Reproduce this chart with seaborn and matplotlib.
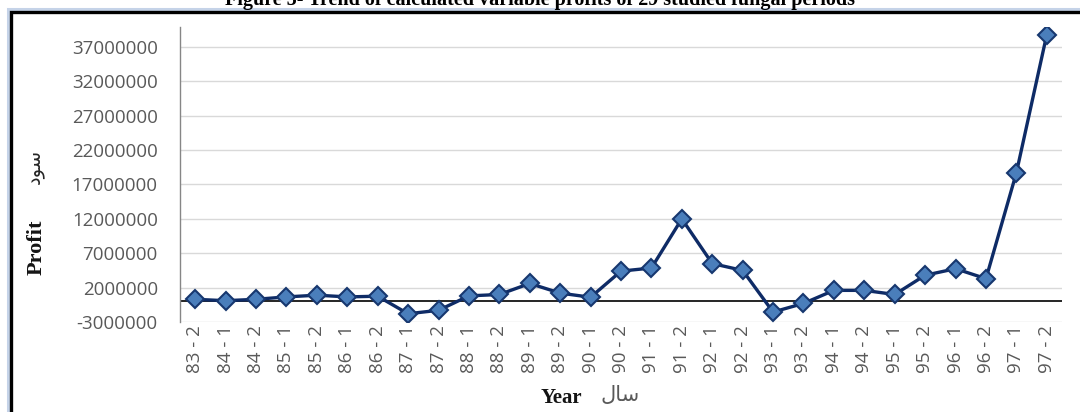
import pandas as pd
import matplotlib
matplotlib.use('Agg')
import matplotlib.pyplot as plt
from matplotlib.lines import Line2D
import seaborn as sns

# periods (year - half) and calculated variable profit
periods = ['83 - 2', '84 - 1', '84 - 2', '85 - 1', '85 - 2', '86 - 1', '86 - 2',
           '87 - 1', '87 - 2', '88 - 1', '88 - 2', '89 - 1', '89 - 2', '90 - 1',
           '90 - 2', '91 - 1', '91 - 2', '92 - 1', '92 - 2', '93 - 1', '93 - 2',
           '94 - 1', '94 - 2', '95 - 1', '95 - 2', '96 - 1', '96 - 2', '97 - 1', '97 - 2']
profits = [300000, 100000, 300000, 650000, 900000, 650000, 750000,
           -1800000, -1300000, 800000, 1000000, 2600000, 1200000, 600000,
           4400000, 4850000, 12000000, 5500000, 4500000, -1550000, -300000,
           1600000, 1600000, 1000000, 3800000, 4750000, 3300000, 18700000, 38800000]
yticks = list(range(-3000000, 37000001, 5000000))

title = 'Figure 5- Trend of calculated variable profits of 29 studied fungal periods'
# Persian words in presentation forms (visual order): sud, sal
fa_profit = '\uFEA9\uFEEE\uFEB3'
fa_year = '\uFEDD\uFE8E\uFEB3'

df = pd.DataFrame({'period': periods, 'profit': profits})

sns.set_theme(style='white')
plt.rcParams['font.family'] = ['Open Sans', 'DejaVu Sans']

W, H = 1080, 412
fig = plt.figure(figsize=(W / 100, H / 100), dpi=100)
ax = fig.add_axes([180 / W, 1 - 322 / H, (1062 - 180) / W, (322 - 27) / H])

ax.grid(axis='y', color='#d9d9d9', linewidth=1)
ax.axhline(0, color='black', linewidth=1.2, zorder=2)
sns.lineplot(data=df, x='period', y='profit', sort=False, ax=ax,
             color='#0e2b66', linewidth=2.4, marker='D', markersize=9.5,
             markerfacecolor='#4a7ebb', markeredgecolor='#17376f',
             markeredgewidth=1.5, zorder=3)

ax.set_xlim(-0.5, len(periods) - 0.5)
ax.set_ylim(-3000000, 39900000)
ax.set_yticks(yticks)
ax.set_yticklabels([str(v) for v in yticks])
ax.tick_params(axis='y', length=0, pad=16, labelsize=13.5, labelcolor='#595959')
ax.tick_params(axis='x', length=0, pad=2, labelsize=13.5, labelcolor='#595959',
               labelrotation=90)
ax.set_xlabel('')
ax.set_ylabel('')

for s in ['top', 'right', 'bottom']:
    ax.spines[s].set_visible(False)
ax.spines['left'].set_color('#868686')
ax.spines['left'].set_linewidth(1)

# axis titles
fig.text(37 / W, 1 - 247 / H, 'Profit', rotation=90, ha='center', va='center',
         fontsize=16, fontweight='bold', family='Liberation Serif', color='#141414')
fig.text(35 / W, 1 - 166 / H, fa_profit, rotation=90, ha='center', va='center',
         fontsize=14, family='DejaVu Sans', color='#262626')
fig.text(561 / W, 1 - 398 / H, 'Year', ha='center', va='center',
         fontsize=15, fontweight='bold', family='Liberation Serif', color='#141414')
fig.text(620 / W, 1 - 395 / H, fa_year, ha='center', va='center',
         fontsize=15, family='DejaVu Sans', color='#595959')

# figure caption, cut at the top edge
fig.text(540 / W, 1 - 4.5 / H, title, ha='center', va='baseline',
         fontsize=14.5, fontweight='bold', family='Liberation Serif', color='black')

# frame around the chart (only left and top edges visible)
for x, y, c, lw in [(7.5, 9, '#c5d3e8', 2.2), (11, 11.7, 'black', 2.4)]:
    fig.add_artist(Line2D([x / W, x / W, 1.1], [-0.1, 1 - y / H, 1 - y / H],
                          transform=fig.transFigure, color=c, linewidth=lw,
                          solid_joinstyle='miter'))

fig.savefig('out.png', dpi=100)
